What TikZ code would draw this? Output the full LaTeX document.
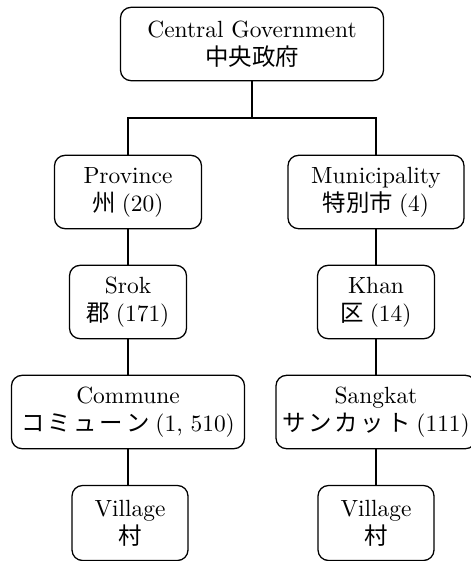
\documentclass[tikz,border=0pt]{standalone}
\usepackage{fontspec}
\setmainfont{lmroman10-regular.otf}[BoldFont=lmroman10-bold.otf]
\newfontfamily\jfont{Noto Sans CJK JP}
\newcommand\jp[1]{{\jfont #1}}
\tikzset{
  orgbox/.style={draw, line width=1.1pt, rounded corners=9pt, align=center,
    inner sep=0pt, minimum height=2.2cm, font=\fontsize{20}{24}\selectfont},
  link/.style={line width=1.1pt}
}
\begin{document}
\begin{tikzpicture}[x=0.03cm,y=-0.03cm]
 \useasboundingbox (0,0) rectangle (470,561);
 % top level
 \node[orgbox,minimum width=7.89cm] (central) at (252,44) {Central Government\\\jp{中央政府}};
 \coordinate (split) at (252,118);
 % left branch
 \node[orgbox,minimum width=4.41cm] (province) at (128,192) {Province\\\jp{州}\hspace{0.25em}(20)};
 \node[orgbox,minimum width=3.51cm] (srok) at (128,302) {Srok\\\jp{郡}\hspace{0.25em}(171)};
 \node[orgbox,minimum width=6.99cm] (commune) at (128,412) {Commune\\\jp{コ\hspace{0.12em}ミ\hspace{0.12em}ュ\hspace{0.12em}ー\hspace{0.12em}ン}\hspace{0.25em}(1, 510)};
 \node[orgbox,minimum width=3.48cm,minimum height=2.25cm] (villageL) at (130,523) {Village\\\jp{村}};
 % right branch
 \node[orgbox,minimum width=5.28cm] (municipality) at (376,192) {Municipality\\\jp{特別市}\hspace{0.25em}(4)};
 \node[orgbox,minimum width=3.51cm] (khan) at (376,302) {Khan\\\jp{区}\hspace{0.25em}(14)};
 \node[orgbox,minimum width=6.0cm] (sangkat) at (376,412) {Sangkat\\\jp{サ\hspace{0.12em}ン\hspace{0.12em}カ\hspace{0.12em}ッ\hspace{0.12em}ト}\hspace{0.25em}(111)};
 \node[orgbox,minimum width=3.48cm,minimum height=2.25cm] (villageR) at (376,523) {Village\\\jp{村}};
 % connectors
 \draw[link] (central.south) -- (split);
 \draw[link] (province.north) |- (split) -| (municipality.north);
 \draw[link] (province) -- (srok);
 \draw[link] (srok) -- (commune);
 \draw[link] (commune.south) -- (commune.south |- villageL.north);
 \draw[link] (municipality) -- (khan);
 \draw[link] (khan) -- (sangkat);
 \draw[link] (sangkat) -- (villageR);
\end{tikzpicture}
\end{document}
